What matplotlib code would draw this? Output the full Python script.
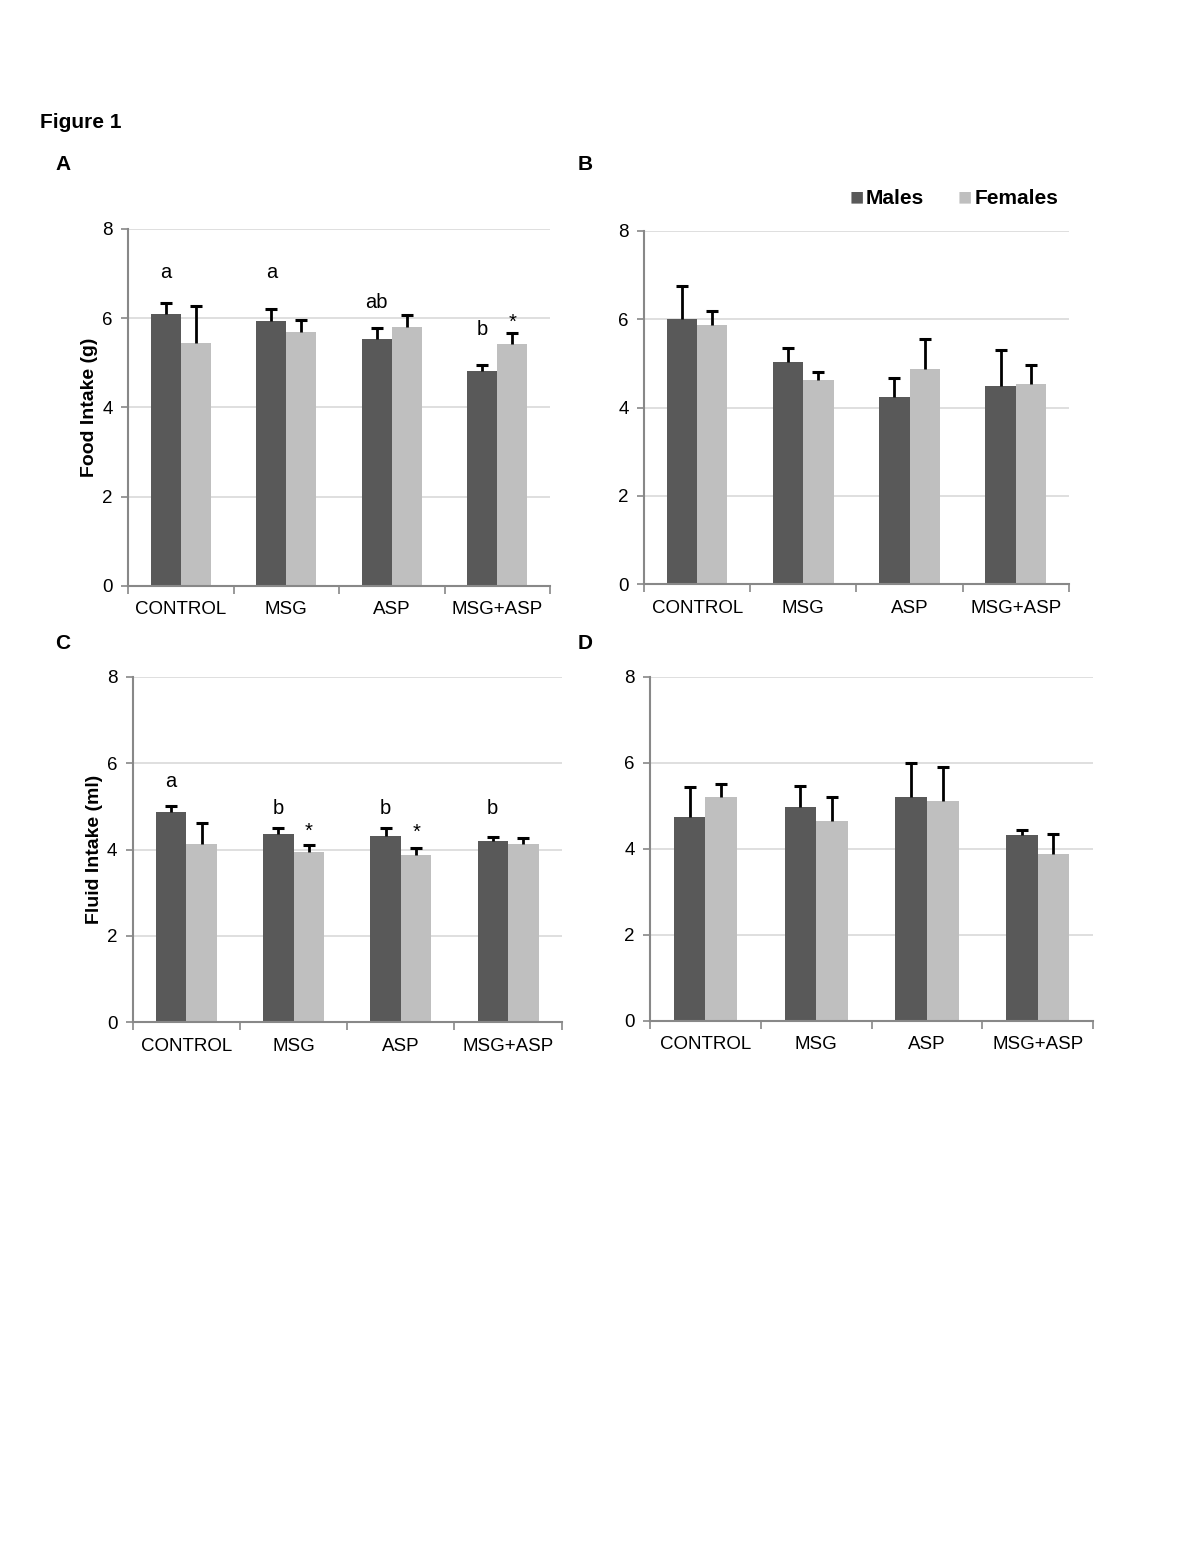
import numpy as np
import matplotlib.pyplot as plt

plt.rcParams['font.family'] = ['Liberation Sans', 'DejaVu Sans']

groups = ['CONTROL', 'MSG', 'ASP', 'MSG+ASP']

# A: food intake, panel left
food_a_males = [6.09, 5.93, 5.54, 4.82]
food_a_males_err = [0.26, 0.27, 0.24, 0.14]
food_a_females = [5.44, 5.69, 5.81, 5.43]
food_a_females_err = [0.84, 0.26, 0.26, 0.24]
food_a_letters = ['a', 'a', 'ab', 'b']
food_a_stars = ['', '', '', '*']

# B: food intake, panel right
food_b_males = [6.00, 5.04, 4.24, 4.50]
food_b_males_err = [0.76, 0.32, 0.44, 0.81]
food_b_females = [5.86, 4.62, 4.87, 4.53]
food_b_females_err = [0.33, 0.18, 0.68, 0.44]

# C: fluid intake, panel left
fluid_c_males = [4.87, 4.37, 4.32, 4.20]
fluid_c_males_err = [0.14, 0.13, 0.17, 0.10]
fluid_c_females = [4.13, 3.94, 3.87, 4.13]
fluid_c_females_err = [0.48, 0.17, 0.16, 0.14]
fluid_c_letters = ['a', 'b', 'b', 'b']
fluid_c_stars = ['', '*', '*', '']

# D: fluid intake, panel right
fluid_d_males = [4.73, 4.98, 5.21, 4.31]
fluid_d_males_err = [0.71, 0.48, 0.78, 0.12]
fluid_d_females = [5.21, 4.65, 5.12, 3.87]
fluid_d_females_err = [0.30, 0.56, 0.77, 0.48]

male_color = '#595959'
female_color = '#bfbfbf'
w = 0.285


def upper_err(ax, xs, vals, errs):
    # only the upper half of the error bar, like Excel "plus" error bars
    vals = np.asarray(vals)
    tops = vals + np.asarray(errs)
    ax.vlines(xs, vals, tops, color='black', linewidth=2, zorder=3)
    ax.plot(xs, tops, linestyle='none', marker='_', markersize=9,
            markeredgewidth=2.2, color='black', zorder=3)


def draw_panel(ax, males, males_err, females, females_err, ylabel=None):
    x = np.arange(len(groups))
    ax.bar(x - w / 2, males, w, color=male_color, zorder=2)
    ax.bar(x + w / 2, females, w, color=female_color, zorder=2)
    upper_err(ax, x - w / 2, males, males_err)
    upper_err(ax, x + w / 2, females, females_err)
    ax.set_xlim(-0.5, 3.5)
    ax.set_ylim(0, 8)
    ax.set_yticks([0, 2, 4, 6, 8])
    ax.yaxis.grid(True, color='#d9d9d9', linewidth=1.2, zorder=0)
    ax.set_axisbelow(True)
    ax.set_xticks(np.arange(-0.5, 4, 1))
    ax.set_xticklabels([])
    ax.set_xticks(x, minor=True)
    ax.set_xticklabels(groups, minor=True)
    ax.tick_params(axis='x', which='major', direction='out', length=6, color='#888888', width=1.2)
    ax.tick_params(axis='x', which='minor', length=0, labelsize=13.5, pad=11)
    ax.tick_params(axis='y', direction='out', length=5, color='#888888', width=1.2,
                   labelsize=13.5, pad=6)
    for s in ['top', 'right']:
        ax.spines[s].set_visible(False)
    for s in ['left', 'bottom']:
        ax.spines[s].set_color('#888888')
        ax.spines[s].set_linewidth(1.5)
    if ylabel:
        ax.set_ylabel(ylabel, fontsize=14, fontweight='bold', labelpad=3)


def annotate(ax, letters, letter_y, stars, star_y):
    for i, t in enumerate(letters):
        ax.text(i - w / 2, letter_y[i], t, ha='center', va='center', fontsize=14.5)
    for i, t in enumerate(stars):
        if t:
            ax.text(i + w / 2, star_y[i], t, ha='center', va='center', fontsize=14.5)


fig = plt.figure(figsize=(12, 15.53), dpi=100)

ax_a = fig.add_axes([0.1067, 0.6227, 0.3517, 0.2299])
draw_panel(ax_a, food_a_males, food_a_males_err, food_a_females, food_a_females_err,
           'Food Intake (g)')
annotate(ax_a, food_a_letters, [7.02, 7.02, 6.35, 5.74], food_a_stars, [0, 0, 0, 5.9])

ax_b = fig.add_axes([0.5367, 0.6238, 0.354, 0.2275])
draw_panel(ax_b, food_b_males, food_b_males_err, food_b_females, food_b_females_err)

ax_c = fig.add_axes([0.1106, 0.3417, 0.3575, 0.2225])
draw_panel(ax_c, fluid_c_males, fluid_c_males_err, fluid_c_females, fluid_c_females_err,
           'Fluid Intake (ml)')
annotate(ax_c, fluid_c_letters, [5.57, 4.95, 4.95, 4.95], fluid_c_stars, [0, 4.42, 4.40, 0])

ax_d = fig.add_axes([0.5417, 0.3426, 0.3692, 0.2217])
draw_panel(ax_d, fluid_d_males, fluid_d_males_err, fluid_d_females, fluid_d_females_err)

fig.text(40 / 1200, 1 - 122 / 1553, 'Figure 1', fontsize=15, fontweight='bold', va='center')
for lab, px, py in [('A', 55, 165), ('B', 578, 165), ('C', 55, 643), ('D', 578, 643)]:
    fig.text(px / 1200, 1 - py / 1553, lab, fontsize=15, fontweight='bold', va='center')

# legend
fig.text(850 / 1200, 1 - 198 / 1553, '\u25a0', color=male_color, fontsize=17, va='center')
fig.text(866 / 1200, 1 - 198 / 1553, 'Males', fontsize=15, fontweight='bold', va='center')
fig.text(958 / 1200, 1 - 198 / 1553, '\u25a0', color=female_color, fontsize=17, va='center')
fig.text(975 / 1200, 1 - 198 / 1553, 'Females', fontsize=15, fontweight='bold', va='center')

fig.savefig('out.png', dpi=100)
